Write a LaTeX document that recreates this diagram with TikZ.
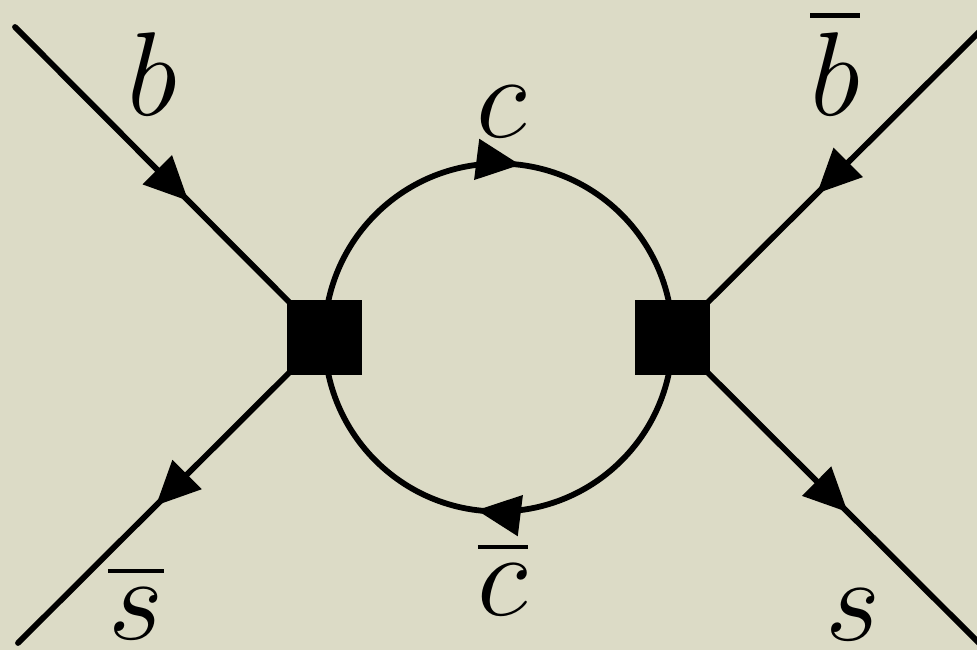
\documentclass[tikz,border=0pt]{standalone}
\usepackage{amsmath}
\usetikzlibrary{arrows.meta,decorations.markings}
\definecolor{paper}{RGB}{220,219,198}

\begin{document}
\begin{tikzpicture}[x=0.02cm,y=-0.02cm,line width=3.3pt,line cap=round,
  vertex/.style={rectangle,fill=black,minimum size=1.5cm,inner sep=0pt},
  lbl/.style={anchor=base,inner sep=0pt,font=\Huge,scale=2.73},
  fermion/.style={postaction={decorate},decoration={markings,
    mark=at position #1 with {\arrow{Triangle[length=0.88cm,width=0.8cm]}}}}]
\fill[paper] (0,0) rectangle (977,650);
\useasboundingbox (0,0) rectangle (977,650);
\coordinate (vl) at (324.5,337.5);
\coordinate (vr) at (672.5,337.5);
\coordinate (bin)   at (15,27);
\coordinate (sbout) at (18,643);
\coordinate (bbin)  at (980,31);
\coordinate (sout)  at (980,644);
% external quark lines
\draw[fermion=0.56] (bin) -- (vl);
\draw[fermion=0.55] (vl) -- (sbout);
\draw[fermion=0.53] (bbin) -- (vr);
\draw[fermion=0.57] (vr) -- (sout);
% charm loop
\draw[fermion=0.54] (vl) arc[start angle=180,end angle=360,radius=174];
\draw[fermion=0.54] (vr) arc[start angle=0,end angle=180,radius=174];
\node[vertex] (vlbox) at (vl) {};
\node[vertex] (vrbox) at (vr) {};
% labels
\node[lbl] (lb)  at (152,115) {$b$};
\node[lbl] (lc)  at (502,137) {$c$};
\node[lbl] (lbb) at (835,115) {$\overline{b}$};
\node[lbl] (lsb) at (136,639) {$\overline{s}$};
\node[lbl] (lcb) at (503,615) {$\overline{c}$};
\node[lbl] (ls)  at (853,640) {$s$};
\end{tikzpicture}
\end{document}
